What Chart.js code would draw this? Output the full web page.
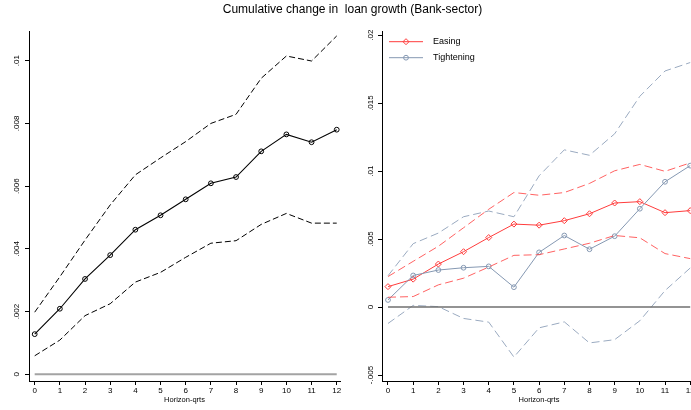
<!DOCTYPE html>
<html><head><meta charset="utf-8">
<script src="https://cdn.jsdelivr.net/npm/chart.js@4.4.1/dist/chart.umd.min.js"></script>
<style>
html,body{margin:0;padding:0;width:691px;height:410px;overflow:hidden;background:#fff;position:relative;}
#title{position:absolute;left:0;top:2px;width:705px;text-align:center;font:12px "Liberation Sans",Arial,sans-serif;color:#000;line-height:14px;white-space:pre;z-index:2;}
#w1{position:absolute;left:0;top:0;width:345px;height:410px;}
#w2{position:absolute;left:345px;top:0;width:361px;height:410px;}
canvas{display:block;}
</style></head><body>
<div id="title">Cumulative change in  loan growth (Bank-sector)</div>
<div id="w1"><canvas id="c1" width="345" height="410" style="width:345px;height:410px"></canvas></div>
<div id="w2"><canvas id="c2" width="361" height="410" style="width:361px;height:410px"></canvas></div>
<script>
// ---------- DATA ----------
const horizons = [0,1,2,3,4,5,6,7,8,9,10,11,12];
const xTitle = "Horizon-qrts";

// Left panel: bank-sector cumulative response with confidence band
const bankIrf   = [0.00128,0.00209,0.00304,0.00380,0.00461,0.00507,0.00558,0.00609,0.00629,0.00711,0.00765,0.00740,0.00780];
const bankUpper = [0.00198,0.00311,0.00428,0.00540,0.00636,0.00690,0.00742,0.00800,0.00829,0.00944,0.01015,0.00999,0.01079];
const bankLower = [0.00059,0.00109,0.00187,0.00225,0.00294,0.00325,0.00373,0.00418,0.00426,0.00478,0.00513,0.00482,0.00482];
const leftYTicks = [0,0.002,0.004,0.006,0.008,0.01];
const leftYTickLabels = ["0",".002",".004",".006",".008",".01"];

// Right panel: easing vs tightening
const seriesNames = ["Easing","Tightening"];
const easing      = [0.00150,0.00205,0.00316,0.00407,0.00511,0.00610,0.00602,0.00635,0.00686,0.00765,0.00775,0.00694,0.00709];
const easingUpper = [0.00224,0.00336,0.00447,0.00583,0.00719,0.00842,0.00822,0.00842,0.00909,0.01002,0.01049,0.00998,0.01060];
const easingLower = [0.00072,0.00077,0.00163,0.00212,0.00294,0.00380,0.00385,0.00427,0.00469,0.00526,0.00509,0.00393,0.00356];
const tight       = [0.00052,0.00232,0.00272,0.00289,0.00299,0.00146,0.00402,0.00526,0.00425,0.00521,0.00723,0.00921,0.01040];
const tightUpper  = [0.00230,0.00466,0.00544,0.00664,0.00706,0.00664,0.00965,0.01156,0.01116,0.01274,0.01550,0.01736,0.01798];
const tightLower  = [-0.00121,0.00012,0.00003,-0.00084,-0.00111,-0.00368,-0.00153,-0.00109,-0.00264,-0.00240,-0.00101,0.00121,0.00287];
const rightYTicks = [-0.005,0,0.005,0.01,0.015,0.02];
const rightYTickLabels = ["-.005","0",".005",".01",".015",".02"];

// ---------- HELPERS ----------
const FONT = '"Liberation Sans", Arial, sans-serif';
const pts = arr => horizons.map((h,i)=>({x:h,y:arr[i]}));
const zero = () => horizons.map(h=>({x:h,y:0}));

function line(data, color, width, dash, extra){
  return Object.assign({data, borderColor:color, backgroundColor:'rgba(0,0,0,0)', borderWidth:width,
    borderDash:dash||[], pointRadius:0, tension:0, fill:false}, extra||{});
}

function scales(xmin,xmax,ymin,ymax,yTicks,yLabels,yWidth,yPad){
  return {
    x:{type:'linear',min:xmin,max:xmax,
      afterBuildTicks:s=>{s.ticks=horizons.map(v=>({value:v}));},
      afterFit:s=>{s.height=29;s.paddingLeft=0;s.paddingRight=0;},
      grid:{display:true,drawOnChartArea:false,drawTicks:true,tickLength:4,color:'#000',lineWidth:1},
      border:{display:true,color:'#000',width:1},
      ticks:{font:{family:FONT,size:8},color:'#000',padding:1,maxRotation:0,minRotation:0,autoSkip:false,
        callback:v=>String(v)},
      title:{display:true,text:xTitle,font:{family:FONT,size:7.5},color:'#000',padding:{top:0,bottom:6}}
    },
    y:{type:'linear',min:ymin,max:ymax,
      afterBuildTicks:s=>{s.ticks=yTicks.map(v=>({value:v}));},
      afterFit:s=>{s.width=yWidth;s.paddingTop=0;s.paddingBottom=0;},
      grid:{display:true,drawOnChartArea:false,drawTicks:true,tickLength:4,color:'#000',lineWidth:1},
      border:{display:true,color:'#000',width:1},
      ticks:{font:{family:FONT,size:8},color:'#000',padding:yPad,minRotation:90,maxRotation:90,crossAlign:'center',autoSkip:false,
        callback:(v,i)=>yLabels[i]}
    }
  };
}

const common = {responsive:false,animation:false,devicePixelRatio:1,
  plugins:{legend:{display:false},tooltip:{enabled:false}}};

// ---------- LEFT CHART ----------
new Chart(document.getElementById('c1'),{
  type:'line',
  data:{datasets:[
    line(zero(),'#a3a3a3',2),
    line(pts(bankUpper),'#000',1,[6,3]),
    line(pts(bankLower),'#000',1,[6,3]),
    line(pts(bankIrf),'#000',1.1,[],{pointRadius:2.4,pointStyle:'circle',pointBorderColor:'#000',pointBackgroundColor:'rgba(0,0,0,0)',pointBorderWidth:1})
  ]},
  options:Object.assign({},common,{
    layout:{padding:{top:31,right:5,left:0,bottom:0}},
    scales:scales(-0.226,12.13,-0.000214,0.010947,leftYTicks,leftYTickLabels,29,0)
  })
});

// ---------- RIGHT CHART ----------
const RED='#ff3c3c', RED_B='rgba(255,70,70,0.85)', BLUE='#8598b2', BLUE_B='#9aaac0';
const legendPlugin = {
  id:'insideLegend',
  afterDatasetsDraw(chart){
    const {ctx, chartArea} = chart;
    seriesNames.forEach((name,i)=>{
      const d = chart.data.datasets.find(ds=>ds.label===name);
      const y = chartArea.top + 10.7 + i*16;
      const x0 = chartArea.left + 7, x1 = chartArea.left + 41;
      ctx.save();
      ctx.setLineDash([]);
      ctx.strokeStyle = d.borderColor; ctx.lineWidth = d.borderWidth;
      ctx.beginPath(); ctx.moveTo(x0,y); ctx.lineTo(x1,y); ctx.stroke();
      ctx.fillStyle = 'rgba(0,0,0,0)'; ctx.strokeStyle = d.pointBorderColor; ctx.lineWidth = d.pointBorderWidth;
      Chart.helpers.drawPoint(ctx,{pointStyle:d.pointStyle,radius:d.pointRadius,borderWidth:d.pointBorderWidth,rotation:0},(x0+x1)/2,y);
      ctx.fillStyle='#000'; ctx.font='9px '+FONT; ctx.textBaseline='middle'; ctx.textAlign='left';
      ctx.fillText(name, chartArea.left + 51, y);
      ctx.restore();
    });
  }
};

new Chart(document.getElementById('c2'),{
  type:'line',
  data:{datasets:[
    line(zero(),'#6f6f6f',1.6),
    line(pts(tightUpper),BLUE_B,1,[8,4]),
    line(pts(tightLower),BLUE_B,1,[8,4]),
    line(pts(easingUpper),RED_B,1,[8,4]),
    line(pts(easingLower),RED_B,1,[8,4]),
    line(pts(tight),BLUE,1,[],{label:seriesNames[1],pointRadius:2.4,pointStyle:'circle',pointBorderColor:BLUE,pointBackgroundColor:'rgba(0,0,0,0)',pointBorderWidth:1}),
    line(pts(easing),RED,1,[],{label:seriesNames[0],pointRadius:3,pointStyle:'rectRot',pointBorderColor:RED,pointBackgroundColor:'rgba(0,0,0,0)',pointBorderWidth:1})
  ]},
  options:Object.assign({},common,{
    layout:{padding:{top:31,right:10,left:0,bottom:0}},
    scales:scales(-0.238,12.23,-0.00544,0.0203,rightYTicks,rightYTickLabels,37,-2)
  }),
  plugins:[legendPlugin]
});
</script>
</body></html>
